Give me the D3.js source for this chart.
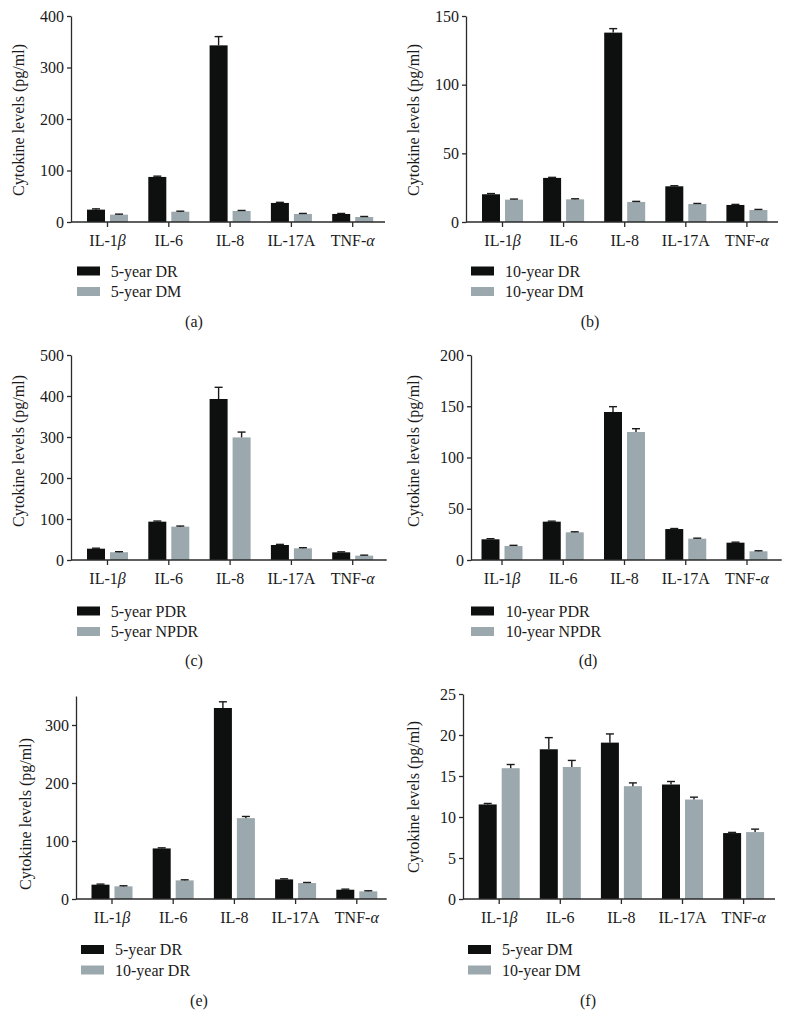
<!DOCTYPE html>
<html>
<head>
<meta charset="utf-8">
<script src="https://cdn.jsdelivr.net/npm/d3@7"></script>
<style>
  html, body { margin: 0; padding: 0; background: #fff; }
  svg { display: block; }
  text { font-family: "Liberation Serif", "Times New Roman", serif; fill: #1a1a1a; }
</style>
</head>
<body>
<svg id="chart" width="789" height="1035"></svg>
<script>
// ---------- DATA ----------
const categories = ["IL-1β", "IL-6", "IL-8", "IL-17A", "TNF-α"];
const yLabel = "Cytokine levels (pg/ml)";

// panel (a)
const aSeries = ["5-year DR", "5-year DM"];
const aValues = [[24, 87.5, 343, 37, 15.6], [14.3, 20, 21.4, 15.6, 9.7]];
const aErrors = [[1.5, 1.5, 17, 1.2, 1], [1, 1, 1, 1, 1]];
const aTicks = [0, 100, 200, 300, 400];

// panel (b)
const bSeries = ["10-year DR", "10-year DM"];
const bValues = [[20.2, 32.1, 137.9, 26, 12.4], [16.3, 16.5, 14.6, 13.1, 8.75]];
const bErrors = [[0.5, 0.4, 2.9, 0.4, 0.4], [0.4, 0.4, 0.4, 0.4, 0.4]];
const bTicks = [0, 50, 100, 150];

// panel (c)
const cSeries = ["5-year PDR", "5-year NPDR"];
const cValues = [[27.6, 93.5, 392.7, 36.6, 18.7], [19, 81.3, 299, 28.5, 10.6]];
const cErrors = [[1.2, 1.5, 28.5, 1.5, 1.2], [1.2, 1.5, 13, 1.5, 1.2]];
const cTicks = [0, 100, 200, 300, 400, 500];

// panel (d)
const dSeries = ["10-year PDR", "10-year NPDR"];
const dValues = [[20.2, 37.4, 144.4, 30.2, 16.9], [13.7, 27, 124.9, 20.8, 8.5]];
const dErrors = [[0.6, 0.5, 5.2, 0.5, 0.5], [0.6, 0.5, 3.2, 0.5, 0.5]];
const dTicks = [0, 50, 100, 150, 200];

// panel (e)
const eSeries = ["5-year DR", "10-year DR"];
const eValues = [[24.7, 87.2, 329.3, 33.8, 16], [21.8, 32.1, 139.4, 27.5, 13.2]];
const eErrors = [[1, 1, 10.7, 1, 1], [1, 1, 2.9, 1, 1]];
const eTicks = [0, 100, 200, 300];
const eMax = 350;

// panel (f)
const fSeries = ["5-year DM", "10-year DM"];
const fValues = [[11.53, 18.26, 19.07, 13.96, 8.04], [15.95, 16.1, 13.76, 12.13, 8.16]];
const fErrors = [[0.12, 1.42, 1.06, 0.37, 0.08], [0.45, 0.8, 0.4, 0.29, 0.36]];
const fTicks = [0, 5, 10, 15, 20, 25];

const seriesColors = ["#0e100f", "#9ba8ad"];

// ---------- LAYOUT ----------
const panels = [
  {series: aSeries, values: aValues, errors: aErrors, ticks: aTicks, max: 400, caption: "(a)",
   ax: 71, axEnd: 385, first: 107.5, step: 61.3, top: 16, bottom: 222,
   ylabX: 24, ylabY: 120, legX: 77, legTextX: 110.7, legY: 266.5, capX: 194, capY: 327},
  {series: bSeries, values: bValues, errors: bErrors, ticks: bTicks, max: 150, caption: "(b)",
   ax: 466, axEnd: 778, first: 502.5, step: 61.1, top: 16, bottom: 222,
   ylabX: 419, ylabY: 120, legX: 471, legTextX: 505, legY: 266.5, capX: 590, capY: 327},
  {series: cSeries, values: cValues, errors: cErrors, ticks: cTicks, max: 500, caption: "(c)",
   ax: 71, axEnd: 386.7, first: 107.5, step: 61.3, top: 355, bottom: 560,
   ylabX: 24, ylabY: 451, legX: 77, legTextX: 110.7, legY: 606.5, capX: 194, capY: 666},
  {series: dSeries, values: dValues, errors: dErrors, ticks: dTicks, max: 200, caption: "(d)",
   ax: 471, axEnd: 781.7, first: 502, step: 61.25, top: 355, bottom: 560,
   ylabX: 419, ylabY: 451, legX: 471, legTextX: 505.7, legY: 606.5, capX: 588, capY: 666},
  {series: eSeries, values: eValues, errors: eErrors, ticks: eTicks, max: eMax, caption: "(e)",
   ax: 76, axEnd: 386.7, first: 112, step: 61.2, top: 696, bottom: 899,
   ylabX: 31, ylabY: 814, legX: 81, legTextX: 115, legY: 945, capX: 199, capY: 1006},
  {series: fSeries, values: fValues, errors: fErrors, ticks: fTicks, max: 25, caption: "(f)",
   ax: 463, axEnd: 775, first: 499.2, step: 61.1, top: 694, bottom: 899,
   ylabX: 419, ylabY: 797, legX: 468, legTextX: 502, legY: 945, capX: 588, capY: 1006}
];

const svg = d3.select("#chart");
const FS = 16;
const axisColor = "#2a2a2a";

function labelParts(c) {
  const m = c.match(/^(.*?)([αβ])$/);
  return m ? [m[1], m[2]] : [c, ""];
}

panels.forEach(p => {
  const g = svg.append("g");
  const x0 = d3.scaleBand().domain(categories)
    .range([p.first - p.step / 2, p.first + p.step * (categories.length - 0.5)]).padding(0);
  const half = p.step / 2;
  const x1 = d3.scaleBand().domain([0, 1]).range([half - 20.5, half + 20.5]).paddingInner(0.217);
  const y = d3.scaleLinear().domain([0, p.max]).range([p.bottom, p.top]);

  // bars
  p.series.forEach((s, si) => {
    const gs = g.append("g");
    gs.selectAll("rect").data(categories).join("rect")
      .attr("x", c => x0(c) + x1(si))
      .attr("width", x1.bandwidth())
      .attr("y", (c, i) => y(p.values[si][i]))
      .attr("height", (c, i) => y(0) - y(p.values[si][i]))
      .attr("fill", seriesColors[si]);
    // error bars (upper only)
    const eg = gs.selectAll("g.err").data(categories).join("g").attr("class", "err");
    eg.append("line")
      .attr("x1", c => x0(c) + x1(si) + x1.bandwidth() / 2)
      .attr("x2", c => x0(c) + x1(si) + x1.bandwidth() / 2)
      .attr("y1", (c, i) => y(p.values[si][i]))
      .attr("y2", (c, i) => y(p.values[si][i] + p.errors[si][i]))
      .attr("stroke", "#1a1a1a").attr("stroke-width", 1.4);
    eg.append("line")
      .attr("x1", c => x0(c) + x1(si) + x1.bandwidth() / 2 - 4)
      .attr("x2", c => x0(c) + x1(si) + x1.bandwidth() / 2 + 4)
      .attr("y1", (c, i) => y(p.values[si][i] + p.errors[si][i]))
      .attr("y2", (c, i) => y(p.values[si][i] + p.errors[si][i]))
      .attr("stroke", "#1a1a1a").attr("stroke-width", 1.4);
  });

  // y axis
  const yAxis = g.append("g").attr("transform", `translate(${p.ax},0)`)
    .call(d3.axisLeft(y).tickValues(p.ticks).tickSize(4).tickPadding(3).tickSizeOuter(0));
  yAxis.select(".domain").attr("stroke", axisColor).attr("stroke-width", 1.3);
  yAxis.selectAll(".tick line").attr("stroke", axisColor).attr("stroke-width", 1.3);
  yAxis.selectAll(".tick text").attr("font-size", FS).attr("font-family", "Liberation Serif").attr("fill", "#1a1a1a");

  // x axis
  const xAxisG = g.append("g").attr("transform", `translate(0,${p.bottom})`)
    .call(d3.axisBottom(x0).tickSize(5).tickSizeOuter(0).tickFormat(""));
  xAxisG.select(".domain").attr("d", `M${p.ax},0H${p.axEnd}`)
    .attr("stroke", axisColor).attr("stroke-width", 1.3);
  xAxisG.selectAll(".tick line").attr("stroke", axisColor).attr("stroke-width", 1.3);
  xAxisG.selectAll(".tick text").remove();
  categories.forEach(c => {
    const [base, greek] = labelParts(c);
    const t = g.append("text")
      .attr("x", x0(c) + x0.bandwidth() / 2)
      .attr("y", p.bottom + 23.5)
      .attr("text-anchor", "middle")
      .attr("font-size", FS);
    t.append("tspan").text(base);
    if (greek) t.append("tspan").attr("font-style", "italic").text(greek);
  });

  // y label
  g.append("text")
    .attr("transform", `translate(${p.ylabX},${p.ylabY}) rotate(-90)`)
    .attr("text-anchor", "middle")
    .attr("font-size", FS)
    .text(yLabel);

  // legend
  p.series.forEach((s, si) => {
    g.append("rect")
      .attr("x", p.legX).attr("y", p.legY + si * 20.5)
      .attr("width", 23).attr("height", 9)
      .attr("fill", seriesColors[si]);
    g.append("text")
      .attr("x", p.legTextX).attr("y", p.legY + si * 20.5 + 10)
      .attr("font-size", FS)
      .text(s);
  });

  // caption
  g.append("text")
    .attr("x", p.capX).attr("y", p.capY)
    .attr("text-anchor", "middle")
    .attr("font-size", FS)
    .text(p.caption);
});
</script>
</body>
</html>
